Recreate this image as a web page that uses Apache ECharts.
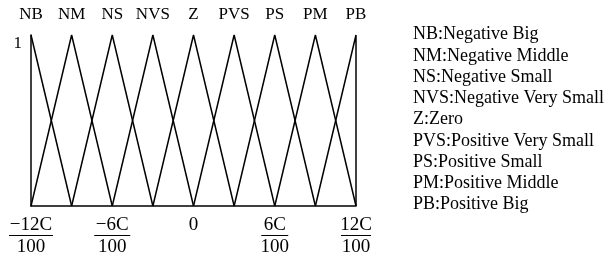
<!DOCTYPE html>
<html>
<head>
<meta charset="utf-8">
<script src="https://cdn.jsdelivr.net/npm/echarts@6/dist/echarts.min.js"></script>
<style>html,body{margin:0;padding:0;background:#fff}#c{width:604px;height:257px}</style>
</head>
<body>
<div id="c"></div>
<script>
// Linguistic terms (short and full names)
const termShort = ['NB', 'NM', 'NS', 'NVS', 'Z', 'PVS', 'PS', 'PM', 'PB'];
const termFull = ['Negative Big', 'Negative Middle', 'Negative Small', 'Negative Very Small', 'Zero',
                  'Positive Very Small', 'Positive Small', 'Positive Middle', 'Positive Big'];
// Peak positions of each term (in units of C/100)
const termPeaks = [-12, -9, -6, -3, 0, 3, 6, 9, 12];
// Membership function vertices [x (C/100), mu]
const NB  = [[-12, 1], [-9, 0]];
const NM  = [[-12, 0], [-9, 1], [-6, 0]];
const NS  = [[-9, 0], [-6, 1], [-3, 0]];
const NVS = [[-6, 0], [-3, 1], [0, 0]];
const Z   = [[-3, 0], [0, 1], [3, 0]];
const PVS = [[0, 0], [3, 1], [6, 0]];
const PS  = [[3, 0], [6, 1], [9, 0]];
const PM  = [[6, 0], [9, 1], [12, 0]];
const PB  = [[9, 0], [12, 1], [12, 0]];
const termData = [NB, NM, NS, NVS, Z, PVS, PS, PM, PB];
// Bottom tick labels: value -> numerator / denominator
const xTickValues = [-12, -6, 0, 6, 12];
const xTickNumer = ['\u221212C', '\u22126C', '0', '6C', '12C'];
const xTickDenom = ['100', '100', '', '100', '100'];

const FONT = '"Liberation Serif", "Times New Roman", serif';
const chart = echarts.init(document.getElementById('c'));

const barStyles = {
  b0: { width: 44, height: 1, backgroundColor: '#000', lineHeight: 5 },
  b1: { width: 36, height: 1, backgroundColor: '#000', lineHeight: 5 },
  b2: { width: 1, height: 1, backgroundColor: 'transparent', lineHeight: 5 },
  b3: { width: 27, height: 1, backgroundColor: '#000', lineHeight: 5 },
  b4: { width: 30, height: 1, backgroundColor: '#000', lineHeight: 5 }
};

chart.setOption({
  animation: false,
  backgroundColor: '#fff',
  title: {
    text: termShort.map((s, i) => s + ':' + termFull[i]).join('\n'),
    left: 413,
    top: 24,
    padding: 0,
    textStyle: { fontFamily: FONT, fontSize: 18, fontWeight: 'normal', color: '#000', lineHeight: 21.25 }
  },
  grid: { left: 31, right: 248, top: 35, bottom: 50 },
  xAxis: [
    {
      type: 'value', min: -12, max: 12, interval: 6, position: 'bottom',
      axisLine: { show: true, onZero: false, lineStyle: { color: '#000', width: 1.5 } },
      axisTick: { show: false },
      splitLine: { show: false },
      axisLabel: {
        margin: 11,
        formatter: function (v) {
          const i = xTickValues.indexOf(v);
          if (i < 0) return '';
          return '{n|' + xTickNumer[i] + '}\n{b' + i + '|}\n{d|' + (xTickDenom[i] || ' ') + '}';
        },
        rich: Object.assign({
          n: { fontFamily: FONT, fontSize: 19, color: '#000', lineHeight: 16 },
          d: { fontFamily: FONT, fontSize: 19, color: '#000', lineHeight: 19 }
        }, barStyles)
      }
    },
    {
      type: 'value', min: -12, max: 12, interval: 3, position: 'top',
      axisLine: { show: false },
      axisTick: { show: false },
      splitLine: { show: false },
      axisLabel: {
        margin: 12,
        fontFamily: FONT, fontSize: 17, color: '#000',
        formatter: function (v) {
          const i = termPeaks.indexOf(v);
          return i < 0 ? '' : termShort[i];
        }
      }
    }
  ],
  yAxis: {
    type: 'value', min: 0, max: 1, interval: 1,
    axisLine: { show: true, onZero: false, lineStyle: { color: '#000', width: 1.5 } },
    axisTick: { show: false },
    splitLine: { show: false },
    axisLabel: {
      margin: 9, verticalAlign: 'top',
      fontFamily: FONT, fontSize: 17, color: '#000',
      formatter: function (v) { return v === 1 ? '1' : ''; }
    }
  },
  series: termData.map((d, i) => ({
    type: 'line', name: termShort[i], data: d,
    xAxisIndex: 0, showSymbol: false, symbol: 'none',
    lineStyle: { color: '#000', width: 1.5 },
    silent: true
  }))
});
</script>
</body>
</html>
